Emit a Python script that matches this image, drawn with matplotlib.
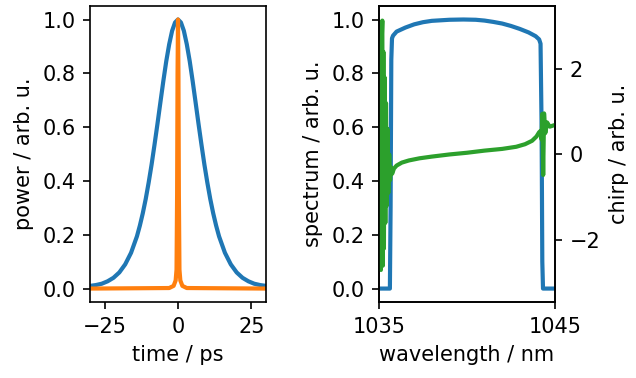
import numpy as np
import matplotlib
matplotlib.use("Agg")
import matplotlib.pyplot as plt

# pulse in time domain
t_in = [-30, -28, -26, -24, -22, -20, -18, -16, -14, -13, -12, -11, -10, -9, -8, -7, -6, -5, -4, -3, -2, -1,
        0, 1, 2, 3, 4, 5, 6, 7, 8, 9, 10, 11, 12, 13, 14, 16, 18, 20, 22, 24, 26, 28, 30]
p_in = [0.010, 0.013, 0.018, 0.027, 0.040, 0.060, 0.090, 0.133, 0.194, 0.234, 0.280, 0.333, 0.394, 0.461,
        0.535, 0.612, 0.692, 0.771, 0.845, 0.908, 0.958, 0.989,
        1.0, 0.989, 0.958, 0.908, 0.845, 0.771, 0.692, 0.612, 0.535, 0.461, 0.394, 0.333, 0.280, 0.234,
        0.194, 0.133, 0.090, 0.060, 0.040, 0.027, 0.018, 0.013, 0.010]

t_out = [-30, -3, -1.5, -0.8, -0.5, -0.3, -0.15, 0, 0.15, 0.3, 0.5, 0.8, 1.5, 3, 30]
p_out = [0.0, 0.002, 0.01, 0.03, 0.07, 0.35, 0.8, 1.0, 0.8, 0.35, 0.07, 0.03, 0.01, 0.002, 0.0]

# spectrum
wl = [1035.0, 1035.62, 1035.66, 1035.70, 1035.74, 1035.8, 1036.0, 1036.5, 1037.0, 1037.5, 1038.0, 1039.0,
      1039.8, 1040.5, 1041.0, 1041.5, 1042.0, 1042.5, 1043.0, 1043.5, 1043.9, 1044.1, 1044.18, 1044.24,
      1044.28, 1044.32, 1045.0]
spec = [0.0, 0.0, 0.3, 0.85, 0.93, 0.94, 0.955, 0.97, 0.982, 0.99, 0.995, 0.999,
        1.0, 0.999, 0.996, 0.991, 0.985, 0.976, 0.965, 0.952, 0.938, 0.926, 0.91, 0.6,
        0.1, 0.0, 0.0]

wl_chirp = [1035.08, 1035.11, 1035.15, 1035.19, 1035.22, 1035.25, 1035.28, 1035.32, 1035.36, 1035.40,
            1035.44, 1035.48, 1035.53, 1035.58, 1035.63, 1035.68, 1035.75, 1035.85, 1036.0, 1036.3,
            1036.7, 1037.3, 1038.0, 1039.0, 1040.0, 1041.0, 1042.0, 1042.8, 1043.3, 1043.7, 1043.95,
            1044.1, 1044.18, 1044.24, 1044.28, 1044.33, 1044.38, 1044.45, 1044.55, 1044.7, 1045.0]
chirp = [-1.2, -2.7, 2.6, 3.13, -2.6, 2.4, -2.2, 1.8, -1.6, 1.2, -1.2, 0.6, -0.9, 0.0, -0.6, -0.3,
         -0.45, -0.33, -0.26, -0.19, -0.14, -0.09, -0.05, 0.0, 0.04, 0.09, 0.13, 0.18, 0.24, 0.32, 0.42,
         0.52, 0.55, 0.35, 0.95, -0.48, 0.96, 0.5, 0.75, 0.65, 0.69]

fig = plt.figure(figsize=(636 / 150, 378 / 150), dpi=150)
ax1 = fig.add_subplot(1, 2, 1)
ax2 = fig.add_subplot(1, 2, 2)
fig.subplots_adjust(left=0.1415, right=0.8726, top=0.984, bottom=0.201, wspace=0.642)

ax1.plot(t_in, p_in, color='C0', lw=2)
ax1.plot(t_out, p_out, color='C1', lw=2)
ax1.set_xlim(-30, 30)
ax1.set_ylim(-0.05, 1.05)
ax1.set_xticks([-25, 0, 25])
ax1.set_xlabel("time / ps")
ax1.set_ylabel("power / arb. u.")

ax2.plot(wl, spec, color='C0', lw=2)
ax2.set_xlim(1035, 1045)
ax2.set_ylim(-0.05, 1.05)
ax2.set_xticks([1035, 1045])
ax2.set_xlabel("wavelength / nm")
ax2.set_ylabel("spectrum / arb. u.")

ax3 = ax2.twinx()
ax3.plot(wl_chirp, chirp, color='C2', lw=2)
ax3.set_ylim(-3.45, 3.47)
ax3.set_yticks([-2, 0, 2])
ax3.set_ylabel("chirp / arb. u.")

plt.savefig("out.png")
